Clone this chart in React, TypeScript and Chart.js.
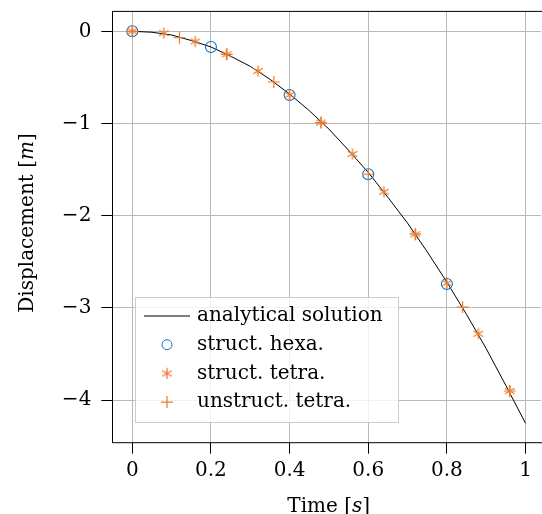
import React, { useEffect, useRef } from "react";
import { Chart, registerables } from "chart.js";
Chart.register(...registerables);

// ---- data ----
const analyticTime = [0, 0.05, 0.1, 0.15, 0.2, 0.25, 0.3, 0.35, 0.4, 0.45, 0.5, 0.55, 0.6, 0.65, 0.7, 0.75, 0.8, 0.85, 0.9, 0.95, 1.0];
const analyticDisp = [0, -0.01, -0.04, -0.1, -0.17, -0.27, -0.38, -0.52, -0.68, -0.86, -1.06, -1.29, -1.53, -1.8, -2.08, -2.39, -2.72, -3.07, -3.44, -3.84, -4.25];
const hexaTime = [0, 0.2, 0.4, 0.6, 0.8];
const hexaDisp = [0, -0.17, -0.69, -1.55, -2.74];
const tetraTime = [0, 0.08, 0.16, 0.24, 0.32, 0.4, 0.48, 0.56, 0.64, 0.72, 0.8, 0.88, 0.96];
const tetraDisp = [0, -0.02, -0.11, -0.25, -0.43, -0.69, -0.99, -1.33, -1.74, -2.2, -2.73, -3.28, -3.9];
const unstructTime = [0, 0.12, 0.24, 0.36, 0.48, 0.6, 0.72, 0.84, 0.96];
const unstructDisp = [0, -0.07, -0.25, -0.55, -0.99, -1.55, -2.2, -2.99, -3.9];
const seriesLabels = ["analytical solution", "struct. hexa.", "struct. tetra.", "unstruct. tetra."];
const xTickValues = [0, 0.2, 0.4, 0.6, 0.8, 1];
const xTickLabels = ["0", "0.2", "0.4", "0.6", "0.8", "1"];
const yTickValues = [-4, -3, -2, -1, 0];
const yTickLabels = ["\u22124", "\u22123", "\u22122", "\u22121", "0"];
const xTitleParts = [{ t: "Time [", i: false }, { t: "s", i: true }, { t: "]", i: false }];
const yTitleParts = [{ t: "Displacement [", i: false }, { t: "m", i: true }, { t: "]", i: false }];

const BLUE = "#0a72c8";
const ORANGE = "#ec7a2e";
const FONT_FAMILY = "'DejaVu Serif', serif";
const FONT_SIZE = 20;
const CANVAS_W = 548;
const CANVAS_H = 514;
// target plot box and where the axis values 0/1 (x) and 0/-4 (y) sit in it
const AREA = { left: 112.35, right: 544.7, top: 11.4, bottom: 442.7 };
const X_PIX = { v0: 0, p0: 132.3, v1: 1, p1: 525.5 };
const Y_PIX = { v0: 0, p0: 31.3, v1: -4, p1: 400.2 };

function zip(xs: number[], ys: number[]) {
  return xs.map((x, k) => ({ x, y: ys[k] }));
}

function makeAsterisk(color: string, r: number) {
  const c = document.createElement("canvas");
  const s = 14;
  c.width = s;
  c.height = s;
  const ctx = c.getContext("2d")!;
  ctx.strokeStyle = color;
  ctx.lineWidth = 1.3;
  const cx = s / 2, cy = s / 2;
  ctx.beginPath();
  for (const a of [90, 30, 150]) {
    const rad = (a * Math.PI) / 180;
    ctx.moveTo(cx - r * Math.cos(rad), cy - r * Math.sin(rad));
    ctx.lineTo(cx + r * Math.cos(rad), cy + r * Math.sin(rad));
  }
  ctx.stroke();
  return c;
}

function drawParts(ctx: CanvasRenderingContext2D, parts: { t: string; i: boolean }[], cx: number, y: number) {
  const fontN = `${FONT_SIZE}px ${FONT_FAMILY}`;
  const fontI = `italic ${FONT_SIZE}px ${FONT_FAMILY}`;
  let w = 0;
  for (const p of parts) {
    ctx.font = p.i ? fontI : fontN;
    w += ctx.measureText(p.t).width;
  }
  let x = cx - w / 2;
  ctx.textAlign = "left";
  for (const p of parts) {
    ctx.font = p.i ? fontI : fontN;
    ctx.fillText(p.t, x, y);
    x += ctx.measureText(p.t).width;
  }
}

export default function App() {
  const ref = useRef<HTMLCanvasElement | null>(null);
  useEffect(() => {
    const canvas = ref.current!;
    const asterisk = makeAsterisk(ORANGE, 5.5);
    const decor = {
      id: "decor",
      afterDraw(chart: any) {
        const ctx: CanvasRenderingContext2D = chart.ctx;
        const a = chart.chartArea;
        const xs = chart.scales.x;
        const rightEdge = Math.max(a.right, xs.getPixelForValue(1.05));
        ctx.save();
        ctx.strokeStyle = "#000";
        ctx.lineWidth = 1;
        ctx.beginPath();
        ctx.moveTo(a.left, a.top);
        ctx.lineTo(rightEdge, a.top);
        ctx.moveTo(a.left, a.bottom);
        ctx.lineTo(rightEdge, a.bottom);
        ctx.moveTo(rightEdge, a.top);
        ctx.lineTo(rightEdge, a.bottom);
        ctx.stroke();
        ctx.fillStyle = "#000";
        ctx.textBaseline = "alphabetic";
        drawParts(ctx, xTitleParts, (a.left + rightEdge) / 2, 512);
        ctx.save();
        ctx.translate(33, 223);
        ctx.rotate(-Math.PI / 2);
        drawParts(ctx, yTitleParts, 0, 0);
        ctx.restore();
        // legend
        const lx = 135, ly = 297, lw = 263, lh = 125;
        ctx.fillStyle = "rgba(255,255,255,0.8)";
        ctx.fillRect(lx, ly, lw, lh);
        ctx.strokeStyle = "#cccccc";
        ctx.lineWidth = 1;
        ctx.strokeRect(lx + 0.5, ly + 0.5, lw, lh);
        const rowY = (k: number) => 316 + k * 28.7;
        const mx = 167;
        ctx.strokeStyle = "#000";
        ctx.beginPath();
        ctx.moveTo(144, rowY(0));
        ctx.lineTo(190, rowY(0));
        ctx.stroke();
        ctx.strokeStyle = BLUE;
        ctx.beginPath();
        ctx.arc(mx, rowY(1), 5, 0, Math.PI * 2);
        ctx.stroke();
        ctx.drawImage(asterisk, mx - 7, rowY(2) - 7);
        ctx.strokeStyle = ORANGE;
        ctx.lineWidth = 1.2;
        ctx.beginPath();
        ctx.moveTo(mx - 6, rowY(3));
        ctx.lineTo(mx + 6, rowY(3));
        ctx.moveTo(mx, rowY(3) - 6);
        ctx.lineTo(mx, rowY(3) + 6);
        ctx.stroke();
        ctx.fillStyle = "#000";
        ctx.font = `${FONT_SIZE}px ${FONT_FAMILY}`;
        ctx.textAlign = "left";
        ctx.textBaseline = "middle";
        seriesLabels.forEach((s, k) => ctx.fillText(s, 197, rowY(k)));
        ctx.restore();
      },
    };
    const chart = new Chart(canvas, {
      type: "scatter",
      data: {
        datasets: [
          {
            label: seriesLabels[0],
            data: zip(analyticTime, analyticDisp),
            showLine: true,
            borderColor: "#000",
            borderWidth: 1,
            pointRadius: 0,
            order: 4,
          },
          {
            label: seriesLabels[1],
            data: zip(hexaTime, hexaDisp),
            pointStyle: "circle",
            pointRadius: 5.5,
            borderColor: BLUE,
            backgroundColor: "rgba(0,0,0,0)",
            borderWidth: 1.1,
            order: 3,
          },
          {
            label: seriesLabels[2],
            data: zip(tetraTime, tetraDisp),
            pointStyle: asterisk as any,
            pointRadius: 6,
            borderColor: ORANGE,
            order: 2,
          },
          {
            label: seriesLabels[3],
            data: zip(unstructTime, unstructDisp),
            pointStyle: "cross",
            pointRadius: 6,
            borderColor: ORANGE,
            borderWidth: 1.2,
            order: 1,
          },
        ],
      },
      options: {
        animation: false,
        responsive: false,
        maintainAspectRatio: false,
        devicePixelRatio: 1,
        layout: { padding: { top: AREA.top, right: CANVAS_W - AREA.right, left: 0, bottom: 0 } },
        plugins: { legend: { display: false }, tooltip: { enabled: false } },
        scales: {
          x: {
            type: "linear",
            min: -0.05,
            max: 1.05,
            afterBuildTicks: (s: any) => {
              s.ticks = xTickValues.map((v) => ({ value: v }));
            },
            afterFit: (s: any) => {
              s.height = CANVAS_H - AREA.bottom;
              s.paddingLeft = 0;
              s.paddingRight = 0;
              s.paddingTop = 0;
              s.paddingBottom = 0;
            },
            ticks: {
              callback: (_v: any, i: number) => xTickLabels[i],
              font: { family: FONT_FAMILY, size: FONT_SIZE },
              color: "#000",
              padding: 5,
              maxRotation: 0,
            },
            grid: { color: "#b8b8b8", tickColor: "#000", tickLength: 11, lineWidth: 1 },
            border: { display: false },
          },
          y: {
            type: "linear",
            min: -4.4625,
            max: 0.2125,
            afterBuildTicks: (s: any) => {
              s.ticks = yTickValues.map((v) => ({ value: v }));
            },
            afterFit: (s: any) => {
              s.width = AREA.left;
              s.paddingLeft = 0;
              s.paddingRight = 0;
              s.paddingTop = 0;
              s.paddingBottom = 0;
            },
            ticks: {
              callback: (_v: any, i: number) => yTickLabels[i],
              font: { family: FONT_FAMILY, size: FONT_SIZE },
              color: "#000",
              padding: 10,
            },
            grid: { color: "#b8b8b8", tickColor: "#000", tickLength: 11, lineWidth: 1 },
            border: { color: "#000", width: 1 },
          },
        },
      },
      plugins: [decor],
    });
    // fit the value ranges to the plot box Chart.js produced, so axis values sit where the reference has them
    const a = chart.chartArea;
    const ux = (X_PIX.p1 - X_PIX.p0) / (X_PIX.v1 - X_PIX.v0);
    const uy = (Y_PIX.p1 - Y_PIX.p0) / (Y_PIX.v1 - Y_PIX.v0);
    const sx: any = chart.options.scales!.x;
    const sy: any = chart.options.scales!.y;
    sx.min = X_PIX.v0 + (a.left - X_PIX.p0) / ux;
    sx.max = X_PIX.v0 + (a.right - X_PIX.p0) / ux;
    sy.max = Y_PIX.v0 + (a.top - Y_PIX.p0) / uy;
    sy.min = Y_PIX.v0 + (a.bottom - Y_PIX.p0) / uy;
    chart.update();
    return () => chart.destroy();
  }, []);
  return (
    <div style={{ position: "absolute", left: 0, top: 0, width: 542, height: 514, overflow: "hidden", background: "#fff" }}>
      <div style={{ position: "relative", width: CANVAS_W, height: CANVAS_H }}>
        <canvas ref={ref} width={CANVAS_W} height={CANVAS_H} style={{ display: "block", width: CANVAS_W, height: CANVAS_H }} />
      </div>
    </div>
  );
}
